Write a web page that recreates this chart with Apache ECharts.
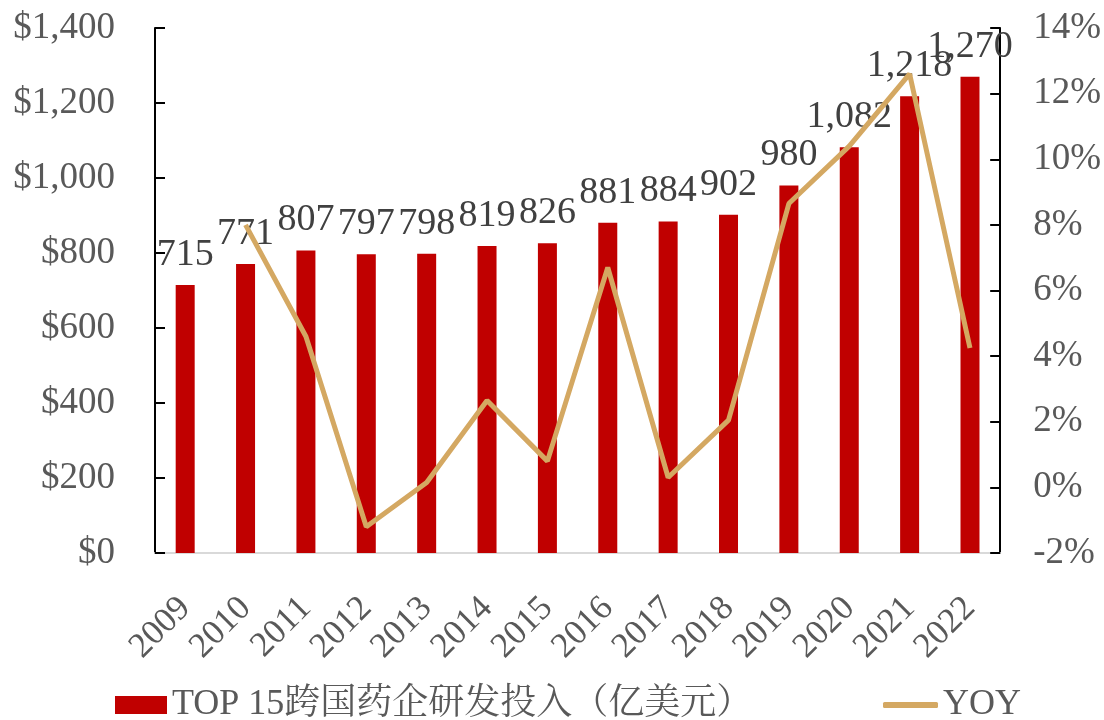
<!DOCTYPE html>
<html><head><meta charset="utf-8">
<script src="https://cdn.jsdelivr.net/npm/echarts@6/dist/echarts.min.js"></script>
<style>html,body{margin:0;padding:0;background:#fff}#c{width:1104px;height:720px}</style>
</head><body><div id="c"></div>
<script>
const categories = ['2009','2010','2011','2012','2013','2014','2015','2016','2017','2018','2019','2020','2021','2022'];
const rdValues = [715,771,807,797,798,819,826,881,884,902,980,1082,1218,1270];
const yoyValues = [null,8.0,4.6,-1.2,0.15,2.65,0.8,6.7,0.3,2.05,8.65,10.4,12.6,4.25];
const barName = 'TOP 15跨国药企研发投入（亿美元）';
const lineName = 'YOY';
const FONT = '"Liberation Serif", "Noto Serif CJK SC", "Noto Sans CJK SC", serif';

const chart = echarts.init(document.getElementById('c'));
chart.setOption({
  animation: false,
  backgroundColor: '#fff',
  textStyle: { fontFamily: FONT },
  grid: { left: 155, right: 99, top: 28, bottom: 167 },
  legend: [
    {
      left: 110, top: 682,
      itemWidth: 52, itemHeight: 18,
      textStyle: { fontFamily: FONT, fontSize: 36, color: '#595959' },
      data: [{ name: barName, icon: 'rect' }]
    },
    {
      left: 878, top: 682,
      itemWidth: 55, itemHeight: 6, itemGap: 4,
      textStyle: { fontFamily: FONT, fontSize: 36, color: '#595959' },
      data: [{ name: lineName, icon: 'roundRect', itemStyle: { color: '#D4A862' } }]
    }
  ],
  xAxis: {
    type: 'category', data: categories,
    axisLine: { lineStyle: { color: '#d9d9d9', width: 2 } },
    axisTick: { show: false },
    axisLabel: { interval: 0, rotate: 45, fontSize: 35, color: '#595959', fontFamily: FONT, margin: 50 }
  },
  yAxis: [
    {
      type: 'value', min: 0, max: 1400, interval: 200,
      splitLine: { show: false },
      axisLine: { show: true, lineStyle: { color: '#000', width: 2 } },
      axisTick: { show: true, inside: true, length: 10, lineStyle: { color: '#000', width: 2 } },
      axisLabel: { fontSize: 37, color: '#595959', fontFamily: FONT, margin: 40,
        formatter: v => '$' + v.toLocaleString('en-US') }
    },
    {
      type: 'value', min: -2, max: 14, interval: 2,
      splitLine: { show: false },
      axisLine: { show: true, lineStyle: { color: '#000', width: 2 } },
      axisTick: { show: true, inside: true, length: 10, lineStyle: { color: '#000', width: 2 } },
      axisLabel: { fontSize: 37, color: '#595959', fontFamily: FONT, margin: 33,
        formatter: v => v + '%' }
    }
  ],
  series: [
    {
      name: barName, type: 'bar', data: rdValues, yAxisIndex: 0,
      barWidth: 19,
      itemStyle: { color: '#C00000' },
      label: { show: true, position: 'top', distance: 11, fontSize: 38, color: '#404040', fontFamily: FONT,
        formatter: p => p.value.toLocaleString('en-US') }
    },
    {
      name: lineName, type: 'line', data: yoyValues, yAxisIndex: 1,
      showSymbol: false, symbol: 'none',
      lineStyle: { color: '#D4A862', width: 5 },
      itemStyle: { color: '#D4A862' },
      z: 5
    }
  ]
});
</script></body></html>
